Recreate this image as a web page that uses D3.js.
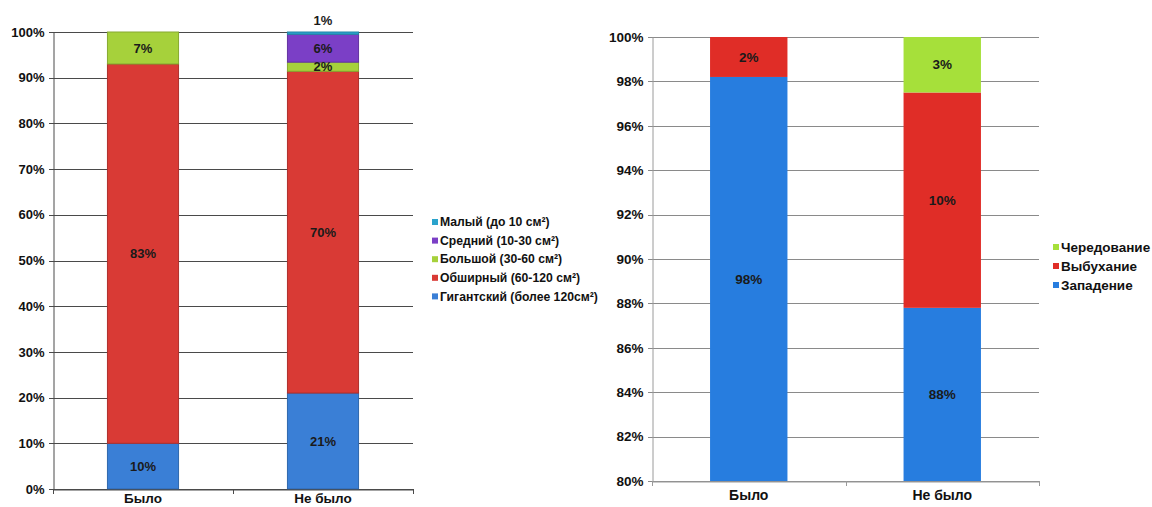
<!DOCTYPE html>
<html><head><meta charset="utf-8">
<script src="https://cdn.jsdelivr.net/npm/d3@7"></script>
<style>
body{margin:0;background:#fff;}
svg{display:block;font-family:"Liberation Sans",Arial,sans-serif;}
</style></head>
<body><svg id="c" width="1152" height="507"></svg>
<script>
// ---- Left chart data ----
const leftCategories = ["Было", "Не было"];
const leftSeriesNames = ["Гигантский (более 120см²)", "Обширный (60-120 см²)", "Большой (30-60 см²)", "Средний (10-30 см²)", "Малый (до 10 см²)"];
const leftGiant = [10, 21];
const leftExtensive = [83, 70.4];
const leftLarge = [7, 2];
const leftMedium = [0, 6.1];
const leftSmall = [0, 0.5];
const leftColors = ["#3a7fd6", "#d93a35", "#a6d13b", "#7b3fc6", "#2aa3cc"];
const leftTicks = [0, 10, 20, 30, 40, 50, 60, 70, 80, 90, 100];

// ---- Right chart data ----
const rightCategories = ["Было", "Не было"];
const rightSeriesNames = ["Западение", "Выбухание", "Чередование"];
const rightSink = [98.2, 87.8];
const rightBulge = [1.8, 9.7];
const rightAlt = [0, 2.5];
const rightColors = ["#277ddf", "#e02d27", "#a6e03a"];
const rightTicks = [80, 82, 84, 86, 88, 90, 92, 94, 96, 98, 100];

const svg = d3.select("#c");

function drawChart(opts) {
  const g = svg.append("g");
  const x = d3.scaleBand().domain(opts.categories).range([opts.x0, opts.x1]).paddingInner(0).paddingOuter(0);
  const y = d3.scaleLinear().domain(opts.domain).range([opts.y0, opts.y1]);
  const bw = x.bandwidth() * opts.barFrac;

  // grid
  g.selectAll(".grid").data(opts.ticks).join("line")
    .attr("x1", opts.x0 - 4).attr("x2", opts.x1)
    .attr("y1", d => Math.round(y(d)) + 0.5).attr("y2", d => Math.round(y(d)) + 0.5)
    .attr("stroke", opts.gridColor).attr("stroke-width", 1);

  // y axis
  const ya = d3.axisLeft(y).tickValues(opts.ticks).tickFormat(d => d + "%").tickSize(0).tickPadding(opts.tickPad);
  const yg = g.append("g").attr("transform", `translate(${opts.x0 + 0.5},0)`).call(ya);
  yg.select(".domain").attr("stroke", opts.axisColor);
  yg.selectAll("text").attr("font-size", opts.tickFont).attr("font-weight", "bold").attr("fill", "#111");

  // stacked data
  const rows = opts.categories.map((c, i) => {
    const o = {cat: c};
    opts.series.forEach((s, k) => o[k] = opts.values[k][i]);
    return o;
  });
  const stack = d3.stack().keys(opts.series.map((s, k) => k))(rows);

  stack.forEach((layer, k) => {
    g.selectAll(null).data(layer).join("rect")
      .attr("x", d => x(d.data.cat) + (x.bandwidth() - bw) / 2)
      .attr("width", bw)
      .attr("y", d => y(Math.min(d[1], opts.domain[1])))
      .attr("height", d => Math.max(0, y(Math.max(d[0], opts.domain[0])) - y(Math.min(d[1], opts.domain[1]))))
      .attr("fill", opts.colors[k])
      .attr("stroke", opts.stroke ? d3.color(opts.colors[k]).darker(0.6) : "none")
      .attr("stroke-width", 1);
  });

  // x axis
  const xa = d3.axisBottom(x).tickSize(0).tickPadding(opts.xPad);
  const xg = g.append("g").attr("transform", `translate(0,${opts.y0 + 0.5})`).call(xa);
  xg.select(".domain").attr("stroke", opts.axisColor);
  xg.selectAll("text").attr("font-size", opts.xFont).attr("font-weight", "bold").attr("fill", "#111");
  // category boundary ticks
  const bounds = [opts.x0, ...opts.categories.slice(1).map(c => x(c)), opts.x1];
  g.selectAll(null).data(bounds).join("line")
    .attr("x1", d => Math.round(d) + 0.5).attr("x2", d => Math.round(d) + 0.5)
    .attr("y1", opts.y0).attr("y2", opts.y0 + 5)
    .attr("stroke", opts.axisColor);

  // labels
  stack.forEach((layer, k) => {
    layer.forEach(d => {
      const v = d[1] - d[0];
      if (v <= 0) return;
      const top = y(Math.min(d[1], opts.domain[1]));
      const bot = y(Math.max(d[0], opts.domain[0]));
      let ly = (top + bot) / 2;
      if (bot - top < 6) ly = top - 12;
      g.append("text")
        .attr("x", x(d.data.cat) + x.bandwidth() / 2)
        .attr("y", ly).attr("dy", "0.35em")
        .attr("text-anchor", "middle")
        .attr("font-size", opts.labelFont).attr("font-weight", "bold").attr("fill", "#1a1a1a")
        .text(Math.round(v) + "%");
    });
  });

  // legend
  const leg = g.append("g");
  opts.legendOrder.forEach((k, i) => {
    const ly = opts.legY + i * opts.legStep;
    leg.append("rect").attr("x", opts.legX).attr("y", ly - 3).attr("width", 6).attr("height", 6)
      .attr("fill", opts.colors[k]);
    leg.append("text").attr("x", opts.legX + 8).attr("y", ly).attr("dy", "0.35em")
      .attr("font-size", opts.legFont).attr("font-weight", "bold").attr("fill", "#111")
      .text(opts.series[k]);
  });
}

drawChart({
  categories: leftCategories, series: leftSeriesNames,
  values: [leftGiant, leftExtensive, leftLarge, leftMedium, leftSmall],
  colors: leftColors, ticks: leftTicks, domain: [0, 100],
  x0: 53, x1: 413, y0: 489, y1: 32, barFrac: 0.395,
  gridColor: "#4a4a4a", axisColor: "#4a4a4a", tickPad: 9, xPad: 4, stroke: true,
  tickFont: 13, xFont: 13.5, labelFont: 13,
  legendOrder: [4, 3, 2, 1, 0], legX: 432, legY: 222, legStep: 18.6, legFont: 12.2
});

drawChart({
  categories: rightCategories, series: rightSeriesNames,
  values: [rightSink, rightBulge, rightAlt],
  colors: rightColors, ticks: rightTicks, domain: [80, 100],
  x0: 652, x1: 1039, y0: 481, y1: 37, barFrac: 0.4,
  gridColor: "#8a8a8a", axisColor: "#9a9a9a", tickPad: 9, xPad: 9, stroke: false,
  tickFont: 13.5, xFont: 14, labelFont: 13.5,
  legendOrder: [2, 1, 0], legX: 1053, legY: 247, legStep: 19, legFont: 13.5
});
</script>
</body></html>
